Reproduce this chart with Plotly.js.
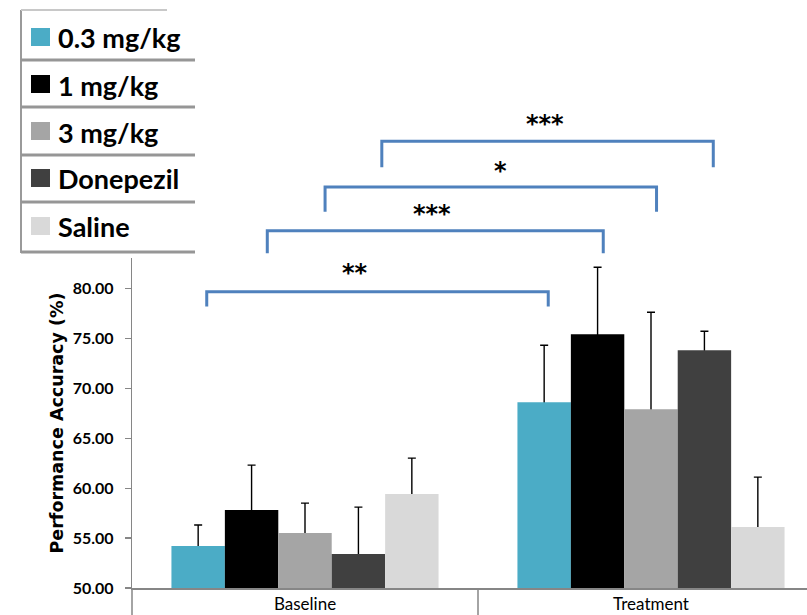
<!DOCTYPE html>
<html><head><meta charset="utf-8">
<script src="https://cdn.plot.ly/plotly-3.0.1.min.js"></script>
<style>html,body{margin:0;padding:0;background:#fff;} #chart{width:807px;height:615px;}</style>
</head><body><div id="chart"></div>
<script>
// ---- data ----
const categories = ['Baseline', 'Treatment'];
const seriesNames = ['0.3 mg/kg', '1 mg/kg', '3 mg/kg', 'Donepezil', 'Saline'];
const dose03 = [54.2, 68.6];
const dose1 = [57.8, 75.4];
const dose3 = [55.5, 67.9];
const donepezil = [53.4, 73.8];
const saline = [59.4, 56.1];
const dose03Err = [2.1, 5.7];
const dose1Err = [4.5, 6.7];
const dose3Err = [3.0, 9.7];
const donepezilErr = [4.7, 1.9];
const salineErr = [3.6, 5.0];
const yTicks = [50, 55, 60, 65, 70, 75, 80];
const sigLabels = ['**', '***', '*', '***'];

// ---- styles / layout helpers ----
const colors = ['#4BACC6', '#000000', '#A5A5A5', '#404040', '#D9D9D9'];
const W = 807, H = 615, ML = 132, MR = 0, MT = 258, MB = 27;
const plotW = W - ML - MR, plotH = H - MT - MB;
const yMin = 50, yMax = 50 + plotH / 9.99;
const px = p => (p - ML) / plotW;          // pixel x -> paper x
const py = p => (H - MB - p) / plotH;      // pixel y -> paper y

const values = [dose03, dose1, dose3, donepezil, saline];
const errs = [dose03Err, dose1Err, dose3Err, donepezilErr, salineErr];

// error-bar carriers (drawn first, so the bars hide the lower half of each error bar)
const errTraces = seriesNames.map((name, i) => ({
  type: 'bar',
  name: name + ' SEM',
  x: categories,
  y: values[i],
  offsetgroup: 'g' + i,
  marker: {color: 'rgba(0,0,0,0)', line: {width: 0}},
  error_y: {type: 'data', symmetric: false, array: errs[i],
            arrayminus: values[i].map(v => v - yMin + 20),
            color: '#000000', thickness: 1.4, width: 4},
  cliponaxis: true,
  hoverinfo: 'skip', showlegend: false
}));

const barTraces = seriesNames.map((name, i) => ({
  type: 'bar',
  name: name,
  x: categories,
  y: values[i],
  offsetgroup: 'g' + i,
  marker: {color: colors[i], line: {width: 0}},
  hoverinfo: 'skip'
}));

const shapes = [];
const annotations = [];

// significance brackets (x in category-axis units, y in pixels of the page)
const bracketGeom = [
  {x0: -0.284, x1: 0.703, yTop: 291.7, yBot: 306.5, tx: 0.1445, ty: 273},
  {x0: -0.109, x1: 0.862, yTop: 230.7, yBot: 253.2, tx: 0.367, ty: 214},
  {x0: 0.058, x1: 1.016, yTop: 187.0, yBot: 211.7, tx: 0.5636, ty: 171},
  {x0: 0.222, x1: 1.180, yTop: 141.2, yBot: 167.3, tx: 0.6936, ty: 124}
];
bracketGeom.forEach((b, i) => {
  shapes.push({
    type: 'path', xref: 'x', yref: 'paper',
    path: `M${b.x0},${py(b.yBot)} L${b.x0},${py(b.yTop)} L${b.x1},${py(b.yTop)} L${b.x1},${py(b.yBot)}`,
    line: {color: '#4F81BD', width: 3}
  });
  annotations.push({
    xref: 'x', yref: 'paper', x: b.tx, y: py(b.ty), text: sigLabels[i], showarrow: false,
    xanchor: 'center', yanchor: 'middle',
    font: {family: 'DejaVu Sans', size: 24, color: '#000', weight: 'bold'}
  });
});

// category divider ticks below axis
shapes.push({type: 'line', xref: 'paper', yref: 'paper', x0: 0, x1: 0, y0: 0, y1: py(H),
  line: {color: '#868686', width: 1.5}});
shapes.push({type: 'line', xref: 'x', yref: 'paper', x0: 0.5, x1: 0.5, y0: 0, y1: py(H),
  line: {color: '#868686', width: 1.5}});

// custom legend box
const legLeft = 21, legRight = 195;
shapes.push({type: 'line', xref: 'paper', yref: 'paper', x0: px(legLeft), x1: px(legLeft), y0: py(10), y1: py(253),
  line: {color: '#9a9a9a', width: 2}});
shapes.push({type: 'line', xref: 'paper', yref: 'paper', x0: px(legLeft), x1: px(167), y0: py(10), y1: py(10),
  line: {color: '#c8c8c8', width: 2}});
const sepY = [60, 107, 155, 202, 252];
sepY.forEach(y => shapes.push({type: 'line', xref: 'paper', yref: 'paper', x0: px(legLeft), x1: px(legRight),
  y0: py(y), y1: py(y), line: {color: '#969696', width: 3}}));
const rowY = [37, 84, 131, 178, 226];
seriesNames.forEach((name, i) => {
  shapes.push({type: 'rect', xref: 'paper', yref: 'paper', x0: px(31), x1: px(50),
    y0: py(rowY[i] + 9), y1: py(rowY[i] - 9), fillcolor: colors[i], line: {width: 0}});
  annotations.push({xref: 'paper', yref: 'paper', x: px(56), y: py(rowY[i] + 1), text: name, showarrow: false,
    xanchor: 'left', yanchor: 'middle',
    font: {family: 'Lato', size: 27, color: '#000', weight: 'bold'}});
});

const layout = {
  width: W, height: H,
  margin: {l: ML, r: MR, t: MT, b: MB, pad: 0},
  paper_bgcolor: '#ffffff', plot_bgcolor: '#ffffff',
  showlegend: false,
  barmode: 'group', bargap: 0.228, bargroupgap: 0,
  font: {family: 'Lato', color: '#000'},
  xaxis: {
    type: 'category', range: [-0.5, -0.5 + plotW / 346],
    showline: true, linecolor: '#868686', linewidth: 1.5,
    ticks: '', showgrid: false, zeroline: false,
    tickfont: {family: 'Lato', size: 17, color: '#000'},
    automargin: false
  },
  yaxis: {
    range: [yMin, yMax],
    tickvals: yTicks, tickformat: '.2f',
    showline: true, linecolor: '#868686', linewidth: 1.2,
    ticks: 'outside', ticklen: 6, tickcolor: '#868686', tickwidth: 1.2,
    ticklabelstandoff: 8,
    showgrid: false, zeroline: false,
    tickfont: {family: 'Lato', size: 16, color: '#000', weight: 'bold'},
    title: {text: 'Performance Accuracy (%)', standoff: 4,
            font: {family: 'DejaVu Sans', size: 17.5, color: '#000', weight: 'bold'}},
    automargin: false
  },
  shapes: shapes,
  annotations: annotations
};

Plotly.newPlot('chart', errTraces.concat(barTraces), layout, {displayModeBar: false, staticPlot: true});
</script>
</body></html>
